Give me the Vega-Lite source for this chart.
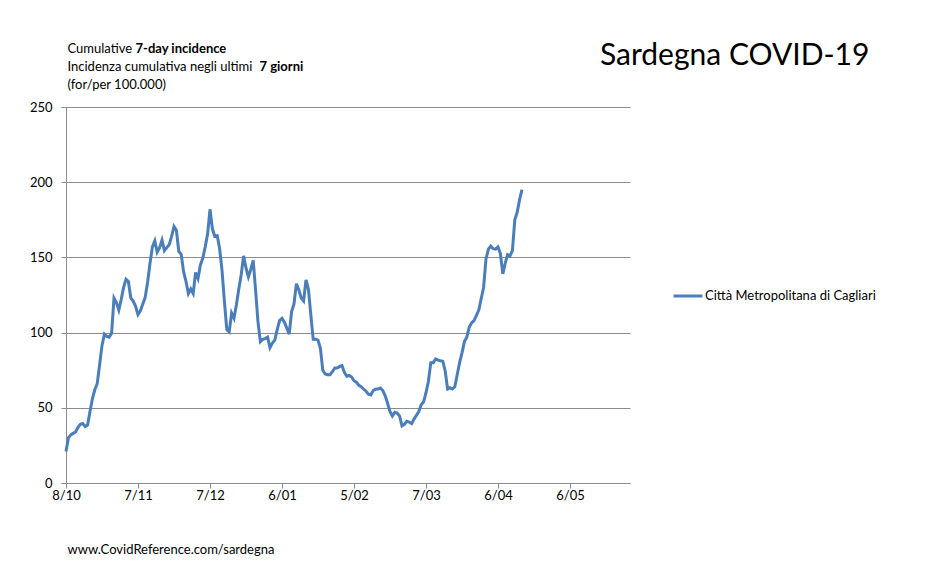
{
  "$schema": "https://vega.github.io/schema/vega-lite/v6.json",
  "width": 564,
  "height": 376,
  "autosize": {"type": "none"},
  "padding": {"left": 66, "top": 107, "right": 307, "bottom": 102},
  "background": "white",
  "config": {"view": {"stroke": null}, "font": "Lato"},
  "title": {
    "text": "Sardegna COVID-19",
    "anchor": "start",
    "frame": "group",
    "dx": 534,
    "offset": -29,
    "fontSize": 30,
    "fontWeight": "normal",
    "font": "Lato",
    "color": "#000000"
  },
  "data": {
    "values": [
      {"d": "2020-10-08", "v": 21}, {"d": "2020-10-09", "v": 30}, {"d": "2020-10-10", "v": 32}, {"d": "2020-10-11", "v": 33},
      {"d": "2020-10-12", "v": 34}, {"d": "2020-10-13", "v": 37}, {"d": "2020-10-14", "v": 39}, {"d": "2020-10-15", "v": 39.5},
      {"d": "2020-10-16", "v": 37.5}, {"d": "2020-10-17", "v": 38.5}, {"d": "2020-10-18", "v": 47.5}, {"d": "2020-10-19", "v": 56},
      {"d": "2020-10-20", "v": 62}, {"d": "2020-10-21", "v": 66}, {"d": "2020-10-22", "v": 78.5}, {"d": "2020-10-23", "v": 91.5},
      {"d": "2020-10-24", "v": 99}, {"d": "2020-10-25", "v": 97.5}, {"d": "2020-10-26", "v": 97}, {"d": "2020-10-27", "v": 99.5},
      {"d": "2020-10-28", "v": 123}, {"d": "2020-10-29", "v": 120}, {"d": "2020-10-30", "v": 115}, {"d": "2020-10-31", "v": 122},
      {"d": "2020-11-01", "v": 130}, {"d": "2020-11-02", "v": 135.5}, {"d": "2020-11-03", "v": 134}, {"d": "2020-11-04", "v": 123},
      {"d": "2020-11-05", "v": 121}, {"d": "2020-11-06", "v": 117.5}, {"d": "2020-11-07", "v": 112}, {"d": "2020-11-08", "v": 114.5},
      {"d": "2020-11-09", "v": 119}, {"d": "2020-11-10", "v": 123.5}, {"d": "2020-11-11", "v": 133.5}, {"d": "2020-11-12", "v": 146},
      {"d": "2020-11-13", "v": 157}, {"d": "2020-11-14", "v": 161}, {"d": "2020-11-15", "v": 153.5}, {"d": "2020-11-16", "v": 156.5},
      {"d": "2020-11-17", "v": 161.5}, {"d": "2020-11-18", "v": 154.5}, {"d": "2020-11-19", "v": 156.5}, {"d": "2020-11-20", "v": 158.5},
      {"d": "2020-11-21", "v": 164}, {"d": "2020-11-22", "v": 170.5}, {"d": "2020-11-23", "v": 168}, {"d": "2020-11-24", "v": 154},
      {"d": "2020-11-25", "v": 152}, {"d": "2020-11-26", "v": 140.5}, {"d": "2020-11-27", "v": 134}, {"d": "2020-11-28", "v": 126},
      {"d": "2020-11-29", "v": 129}, {"d": "2020-11-30", "v": 126}, {"d": "2020-12-01", "v": 140}, {"d": "2020-12-02", "v": 136},
      {"d": "2020-12-03", "v": 145}, {"d": "2020-12-04", "v": 149.5}, {"d": "2020-12-05", "v": 157}, {"d": "2020-12-06", "v": 165.5},
      {"d": "2020-12-07", "v": 182}, {"d": "2020-12-08", "v": 169}, {"d": "2020-12-09", "v": 164}, {"d": "2020-12-10", "v": 164.5},
      {"d": "2020-12-11", "v": 156}, {"d": "2020-12-12", "v": 141.5}, {"d": "2020-12-13", "v": 121}, {"d": "2020-12-14", "v": 102},
      {"d": "2020-12-15", "v": 100.5}, {"d": "2020-12-16", "v": 113}, {"d": "2020-12-17", "v": 109.5}, {"d": "2020-12-18", "v": 118.5},
      {"d": "2020-12-19", "v": 129}, {"d": "2020-12-20", "v": 138.5}, {"d": "2020-12-21", "v": 151}, {"d": "2020-12-22", "v": 143},
      {"d": "2020-12-23", "v": 137}, {"d": "2020-12-24", "v": 142}, {"d": "2020-12-25", "v": 148}, {"d": "2020-12-26", "v": 128},
      {"d": "2020-12-27", "v": 107}, {"d": "2020-12-28", "v": 94}, {"d": "2020-12-29", "v": 95.5}, {"d": "2020-12-30", "v": 96},
      {"d": "2020-12-31", "v": 97}, {"d": "2021-01-01", "v": 90}, {"d": "2021-01-02", "v": 93}, {"d": "2021-01-03", "v": 95},
      {"d": "2021-01-04", "v": 102}, {"d": "2021-01-05", "v": 108}, {"d": "2021-01-06", "v": 109.5}, {"d": "2021-01-07", "v": 107},
      {"d": "2021-01-08", "v": 103}, {"d": "2021-01-09", "v": 99}, {"d": "2021-01-10", "v": 114}, {"d": "2021-01-11", "v": 119},
      {"d": "2021-01-12", "v": 132.5}, {"d": "2021-01-13", "v": 128.5}, {"d": "2021-01-14", "v": 123}, {"d": "2021-01-15", "v": 121},
      {"d": "2021-01-16", "v": 135}, {"d": "2021-01-17", "v": 129}, {"d": "2021-01-18", "v": 112}, {"d": "2021-01-19", "v": 95.5},
      {"d": "2021-01-20", "v": 95.5}, {"d": "2021-01-21", "v": 95}, {"d": "2021-01-22", "v": 89.5}, {"d": "2021-01-23", "v": 75},
      {"d": "2021-01-24", "v": 72.5}, {"d": "2021-01-25", "v": 72}, {"d": "2021-01-26", "v": 72}, {"d": "2021-01-27", "v": 74},
      {"d": "2021-01-28", "v": 76.5}, {"d": "2021-01-29", "v": 76.5}, {"d": "2021-01-30", "v": 77.5}, {"d": "2021-01-31", "v": 78},
      {"d": "2021-02-01", "v": 73.5}, {"d": "2021-02-02", "v": 71}, {"d": "2021-02-03", "v": 71.5}, {"d": "2021-02-04", "v": 70.5},
      {"d": "2021-02-05", "v": 68}, {"d": "2021-02-06", "v": 67}, {"d": "2021-02-07", "v": 65}, {"d": "2021-02-08", "v": 64},
      {"d": "2021-02-09", "v": 62.5}, {"d": "2021-02-10", "v": 61}, {"d": "2021-02-11", "v": 59}, {"d": "2021-02-12", "v": 58.5},
      {"d": "2021-02-13", "v": 61.5}, {"d": "2021-02-14", "v": 62.3}, {"d": "2021-02-15", "v": 62.5}, {"d": "2021-02-16", "v": 63.2},
      {"d": "2021-02-17", "v": 61.5}, {"d": "2021-02-18", "v": 58}, {"d": "2021-02-19", "v": 53}, {"d": "2021-02-20", "v": 47.5},
      {"d": "2021-02-21", "v": 44.5}, {"d": "2021-02-22", "v": 47}, {"d": "2021-02-23", "v": 46.5}, {"d": "2021-02-24", "v": 44.5},
      {"d": "2021-02-25", "v": 38}, {"d": "2021-02-26", "v": 39}, {"d": "2021-02-27", "v": 41}, {"d": "2021-02-28", "v": 40.5},
      {"d": "2021-03-01", "v": 39.5}, {"d": "2021-03-02", "v": 42.5}, {"d": "2021-03-03", "v": 45}, {"d": "2021-03-04", "v": 47.5},
      {"d": "2021-03-05", "v": 52}, {"d": "2021-03-06", "v": 54}, {"d": "2021-03-07", "v": 60}, {"d": "2021-03-08", "v": 67.5},
      {"d": "2021-03-09", "v": 80}, {"d": "2021-03-10", "v": 80}, {"d": "2021-03-11", "v": 82.5}, {"d": "2021-03-12", "v": 81.7},
      {"d": "2021-03-13", "v": 81.3}, {"d": "2021-03-14", "v": 81}, {"d": "2021-03-15", "v": 74.5}, {"d": "2021-03-16", "v": 62.5},
      {"d": "2021-03-17", "v": 63.3}, {"d": "2021-03-18", "v": 62.5}, {"d": "2021-03-19", "v": 64}, {"d": "2021-03-20", "v": 72},
      {"d": "2021-03-21", "v": 80}, {"d": "2021-03-22", "v": 86.5}, {"d": "2021-03-23", "v": 94}, {"d": "2021-03-24", "v": 97},
      {"d": "2021-03-25", "v": 103.5}, {"d": "2021-03-26", "v": 106.5}, {"d": "2021-03-27", "v": 108}, {"d": "2021-03-28", "v": 111.5},
      {"d": "2021-03-29", "v": 115}, {"d": "2021-03-30", "v": 122.5}, {"d": "2021-03-31", "v": 130}, {"d": "2021-04-01", "v": 149},
      {"d": "2021-04-02", "v": 155.5}, {"d": "2021-04-03", "v": 157.5}, {"d": "2021-04-04", "v": 155.8}, {"d": "2021-04-05", "v": 155.5},
      {"d": "2021-04-06", "v": 157}, {"d": "2021-04-07", "v": 152.5}, {"d": "2021-04-08", "v": 139}, {"d": "2021-04-09", "v": 146},
      {"d": "2021-04-10", "v": 151.8}, {"d": "2021-04-11", "v": 151}, {"d": "2021-04-12", "v": 154.5}, {"d": "2021-04-13", "v": 175},
      {"d": "2021-04-14", "v": 180}, {"d": "2021-04-15", "v": 188.5}, {"d": "2021-04-16", "v": 195}
    ]
  },
  "layer": [
    {
      "mark": {"type": "line", "strokeWidth": 3},
      "encoding": {
        "x": {
          "field": "d",
          "type": "temporal",
          "scale": {
            "type": "utc",
            "domain": [
              {"year": 2020, "month": 10, "date": 8, "utc": true},
              {"year": 2021, "month": 5, "date": 31, "utc": true}
            ]
          },
          "axis": {
            "values": [
              {"year": 2020, "month": 10, "date": 8, "utc": true},
              {"year": 2020, "month": 11, "date": 7, "utc": true},
              {"year": 2020, "month": 12, "date": 7, "utc": true},
              {"year": 2021, "month": 1, "date": 6, "utc": true},
              {"year": 2021, "month": 2, "date": 5, "utc": true},
              {"year": 2021, "month": 3, "date": 7, "utc": true},
              {"year": 2021, "month": 4, "date": 6, "utc": true},
              {"year": 2021, "month": 5, "date": 6, "utc": true}
            ],
            "labelExpr": "utcFormat(datum.value, '%-d/%m')",
            "grid": false,
            "tickSize": 5,
            "tickColor": "#8c8c8c",
            "domainColor": "#8c8c8c",
            "labelFont": "Lato",
            "labelFontSize": 13,
            "labelColor": "#000000",
            "labelPadding": 1,
            "labelFlush": false,
            "labelOverlap": false,
            "title": "www.CovidReference.com/sardegna",
            "titleFont": "Lato",
            "titleFontSize": 13,
            "titleFontWeight": "normal",
            "titleColor": "#000000",
            "titleAlign": "left",
            "titleAnchor": "start",
            "titleBaseline": "middle",
            "titleX": 1,
            "titleY": 66
          }
        },
        "y": {
          "field": "v",
          "type": "quantitative",
          "scale": {"domain": [0, 250]},
          "axis": {
            "values": [0, 50, 100, 150, 200, 250],
            "grid": true,
            "gridColor": "#8c8c8c",
            "tickSize": 5,
            "tickColor": "#8c8c8c",
            "domainColor": "#8c8c8c",
            "labelFont": "Lato",
            "labelFontSize": 13,
            "labelColor": "#000000",
            "labelPadding": 9,
            "title": ["Cumulative", "Incidenza cumulativa negli ultimi", "(for/per 100.000)"],
            "titleFont": "Lato",
            "titleFontSize": 13,
            "titleFontWeight": "normal",
            "titleColor": "#000000",
            "titleAngle": 0,
            "titleAlign": "left",
            "titleAnchor": "start",
            "titleBaseline": "top",
            "titleLineHeight": 18,
            "titleX": 1,
            "titleY": -65
          }
        },
        "color": {
          "datum": "Città Metropolitana di Cagliari",
          "scale": {"range": ["#4a7ebb"]},
          "legend": {
            "orient": "none",
            "legendX": 606,
            "legendY": 173,
            "title": null,
            "symbolType": "stroke",
            "symbolStrokeWidth": 3,
            "symbolSize": 841,
            "labelFont": "Lato",
            "labelFontSize": 13,
            "labelColor": "#000000",
            "labelOffset": 1,
            "labelLimit": 400
          }
        }
      }
    },
    {
      "mark": {"type": "line", "strokeOpacity": 0},
      "encoding": {
        "x": {
          "field": "d",
          "type": "temporal",
          "axis": {
            "orient": "top",
            "labels": false,
            "ticks": false,
            "domain": false,
            "grid": false,
            "title": "7 giorni",
            "titleFont": "Lato",
            "titleFontSize": 13,
            "titleFontWeight": "bold",
            "titleColor": "#000000",
            "titleAlign": "left",
            "titleAnchor": "start",
            "titleBaseline": "top",
            "titleX": 193,
            "titleY": -47
          }
        },
        "y": {
          "field": "v",
          "type": "quantitative",
          "axis": {
            "orient": "right",
            "labels": false,
            "ticks": false,
            "domain": false,
            "grid": false,
            "title": "7-day incidence",
            "titleFont": "Lato",
            "titleFontSize": 13,
            "titleFontWeight": "bold",
            "titleColor": "#000000",
            "titleAngle": 0,
            "titleAlign": "left",
            "titleAnchor": "start",
            "titleBaseline": "top",
            "titleX": -495,
            "titleY": -65
          }
        }
      }
    }
  ],
  "resolve": {"scale": {"x": "independent", "y": "independent"}}
}
